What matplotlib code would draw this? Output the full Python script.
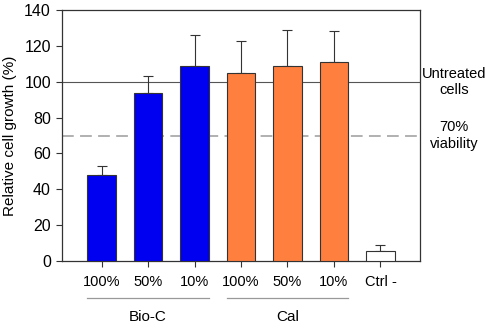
import numpy as np
import matplotlib.pyplot as plt

plt.rcParams['font.family'] = ['Liberation Sans', 'DejaVu Sans']

# data
labels = ['100%', '50%', '10%', '100%', '50%', '10%', 'Ctrl -']
values = [48, 93.5, 109, 105, 109, 111, 5.5]
errors = [5, 9.5, 17, 17.5, 20, 17.5, 3.5]
colors = ['#0000f0'] * 3 + ['#ff7f3f'] * 3 + ['white']
groups = ['Bio-C', 'Cal']

fig = plt.figure(figsize=(4.86, 3.28), dpi=100)
ax = fig.add_axes([62 / 486, 1 - 261 / 328, 358 / 486, 251 / 328])

x = np.arange(len(values))
ax.bar(x, values, width=0.61, color=colors, edgecolor='#333333', linewidth=0.8, zorder=3)
ax.errorbar(x, values, yerr=[np.zeros(len(errors)), errors], fmt='none',
            ecolor='#333333', elinewidth=0.8, capsize=3.5, capthick=0.8, zorder=2)

ax.axhline(100, color='#555555', linewidth=0.8, zorder=1)
ax.axhline(70, color='#aaaaaa', linewidth=1.3, linestyle=(0, (6.5, 3.5)), zorder=1)

ax.set_xlim(-0.85, 6.85)
ax.set_ylim(0, 140)
ax.set_yticks(range(0, 141, 20))
ax.set_xticks(x)
ax.set_xticklabels(labels)
ax.tick_params(axis='both', length=4, width=0.8, color='#333333')
ax.tick_params(axis='x', labelsize=10.5, pad=6)
ax.tick_params(axis='y', labelsize=11.5, pad=4)
for s in ax.spines.values():
    s.set_linewidth(0.9)
    s.set_color('#333333')
ax.set_ylabel('Relative cell growth (%)', fontsize=11, labelpad=5)

# right-hand annotations
ax.text(1.095, 100, 'Untreated\ncells', transform=ax.get_yaxis_transform(),
        ha='center', va='center', fontsize=10.5, linespacing=1.2)
ax.text(1.095, 70, '70%\nviability', transform=ax.get_yaxis_transform(),
        ha='center', va='center', fontsize=10.5, linespacing=1.2)

# group lines and labels under the axis
for i, g in enumerate(groups):
    x0, x1 = 3 * i - 0.31, 3 * i + 2.31
    ax.plot([x0, x1], [-20.5, -20.5], color='#999999', linewidth=0.9, clip_on=False)
    ax.text((x0 + x1) / 2, -31.5, g, ha='center', va='center', fontsize=11)

plt.savefig('out.png', dpi=100)
